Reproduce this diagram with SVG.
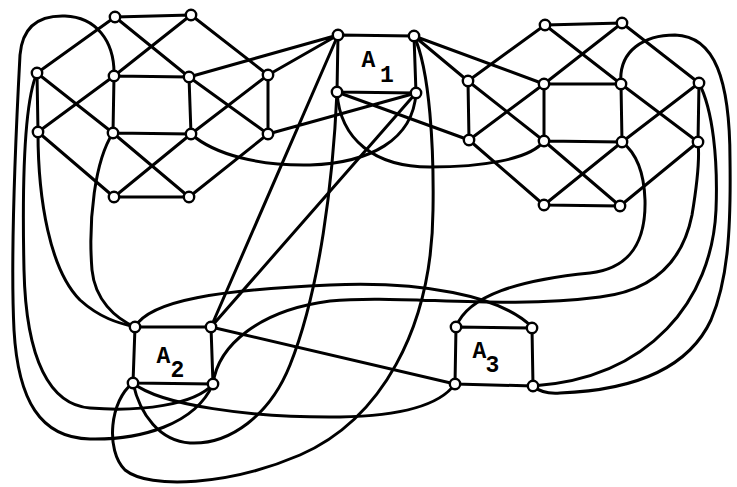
<svg xmlns="http://www.w3.org/2000/svg" width="737" height="487" viewBox="0 0 737 487">
<style>
.e{stroke:#000;stroke-width:3;fill:none;stroke-linecap:round;stroke-linejoin:round}
.n{fill:#fff;stroke:#000;stroke-width:2.4}
.t{font-family:"Liberation Mono","Courier New",monospace;font-weight:bold;font-size:23px;fill:#000;text-anchor:middle}
</style>
<rect width="737" height="487" fill="#fff"/>
<g id="connectors">
<path class="e" d="M115,17 L191,15 M115,17 L37,73 M115,17 L189,77 M191,15 L114,76 M191,15 L268,75 M37,73 L38,132 M37,73 L113,133 M114,76 L38,132 M114,76 L113,133 M114,76 L189,77 M189,77 L191,134 M189,77 L268,134 M268,75 L191,134 M268,75 L268,134 M113,133 L191,134 M38,132 L114,197 M113,133 L189,197 M191,134 L114,197 M268,134 L189,197 M114,197 L189,197"/>
<path class="e" d="M545,25 L622,23 M545,25 L468,81 M545,25 L621,84 M622,23 L544,84 M622,23 L699,83 M468,81 L469,140 M468,81 L544,141 M544,84 L469,140 M544,84 L544,141 M544,84 L621,84 M621,84 L622,142 M621,84 L698,142 M699,83 L622,142 M699,83 L698,142 M544,141 L622,142 M469,140 L544,205 M544,141 L620,206 M622,142 L544,205 M698,142 L620,206 M544,205 L620,206"/>
<path class="e" d="M338,35 L414,36 L416,93 L337,92 Z"/>
<path class="e" d="M135,327 L211,327 L213,384 L133,383 Z"/>
<path class="e" d="M456,327 L532,328 L533,386 L455,384 Z"/>
<path class="e" d="M338,35 L189,77 M338,35 L268,75 M338,35 L211,327 M414,36 L468,81 M414,36 L544,84 M416,93 L268,134 M416,93 L211,327 M337,92 L469,140 M211,327 L455,384"/>
<path class="e" d="M416,93 C413,140 370,163 310,165 C260,166 215,155 191,134"/>
<path class="e" d="M337,92 C340,140 375,167 430,167 C480,167 530,160 544,141"/>
<path class="e" d="M414,36 C430,70 434,150 433,210 C432,330 380,420 300,455 C230,485 150,490 125,470 C105,450 110,400 133,383"/>
<path class="e" d="M337,92 C333,180 320,290 290,365 C270,415 230,445 190,443 C160,441 140,415 133,383"/>
<path class="e" d="M135,327 C150,300 220,290 330,285 C420,281 500,295 532,327"/>
<path class="e" d="M213,384 C218,345 260,310 330,301 C400,294 500,310 600,297 C650,291 682,265 692,215 C697,185 700,160 698,142"/>
<path class="e" d="M456,327 C468,295 520,280 590,273 C632,268 646,240 645,200 C644,170 635,152 622,142"/>
<path class="e" d="M133,383 C160,405 250,418 340,417 C400,416 440,405 455,384"/>
<path class="e" d="M37,73 C25,100 22,180 24,270 C26,360 50,405 90,408 C140,412 195,405 213,384"/>
<path class="e" d="M114,76 C115,40 95,17 65,16 C35,15 22,30 20,55 C16,130 10,250 14,330 C18,400 40,438 90,439 C140,440 195,425 213,384"/>
<path class="e" d="M38,132 C38,200 50,270 80,300 C100,318 118,323 135,327"/>
<path class="e" d="M113,133 C95,160 88,220 92,270 C95,300 115,318 135,327"/>
<path class="e" d="M621,84 C618,50 645,35 675,35 C715,36 730,80 730,160 C731,230 728,280 711,320 C690,365 640,390 560,393 C548,394 540,392 533,386"/>
<path class="e" d="M699,83 C713,110 718,160 716,210 C712,300 650,378 533,386"/>
</g>
<g id="left-gadget">
<g id="L1"><circle class="n" cx="115" cy="17" r="5.2"/></g>
<g id="L2"><circle class="n" cx="191" cy="15" r="5.2"/></g>
<g id="L3"><circle class="n" cx="37" cy="73" r="5.2"/></g>
<g id="L4"><circle class="n" cx="114" cy="76" r="5.2"/></g>
<g id="L5"><circle class="n" cx="189" cy="77" r="5.2"/></g>
<g id="L6"><circle class="n" cx="268" cy="75" r="5.2"/></g>
<g id="L7"><circle class="n" cx="38" cy="132" r="5.2"/></g>
<g id="L8"><circle class="n" cx="113" cy="133" r="5.2"/></g>
<g id="L9"><circle class="n" cx="191" cy="134" r="5.2"/></g>
<g id="L10"><circle class="n" cx="268" cy="134" r="5.2"/></g>
<g id="L11"><circle class="n" cx="114" cy="197" r="5.2"/></g>
<g id="L12"><circle class="n" cx="189" cy="197" r="5.2"/></g>
</g>
<g id="right-gadget">
<g id="R1"><circle class="n" cx="545" cy="25" r="5.2"/></g>
<g id="R2"><circle class="n" cx="622" cy="23" r="5.2"/></g>
<g id="R3"><circle class="n" cx="468" cy="81" r="5.2"/></g>
<g id="R4"><circle class="n" cx="544" cy="84" r="5.2"/></g>
<g id="R5"><circle class="n" cx="621" cy="84" r="5.2"/></g>
<g id="R6"><circle class="n" cx="699" cy="83" r="5.2"/></g>
<g id="R7"><circle class="n" cx="469" cy="140" r="5.2"/></g>
<g id="R8"><circle class="n" cx="544" cy="141" r="5.2"/></g>
<g id="R9"><circle class="n" cx="622" cy="142" r="5.2"/></g>
<g id="R10"><circle class="n" cx="698" cy="142" r="5.2"/></g>
<g id="R11"><circle class="n" cx="544" cy="205" r="5.2"/></g>
<g id="R12"><circle class="n" cx="620" cy="206" r="5.2"/></g>
</g>
<g id="A1">
<g id="A1-tl"><circle class="n" cx="338" cy="35" r="5.2"/></g>
<g id="A1-tr"><circle class="n" cx="414" cy="36" r="5.2"/></g>
<g id="A1-bl"><circle class="n" cx="337" cy="92" r="5.2"/></g>
<g id="A1-br"><circle class="n" cx="416" cy="93" r="5.2"/></g>
<text class="t" x="368.5" y="67">A</text><text class="t" x="387" y="82">1</text>
</g>
<g id="A2">
<g id="A2-tl"><circle class="n" cx="135" cy="327" r="5.2"/></g>
<g id="A2-tr"><circle class="n" cx="211" cy="327" r="5.2"/></g>
<g id="A2-bl"><circle class="n" cx="133" cy="383" r="5.2"/></g>
<g id="A2-br"><circle class="n" cx="213" cy="384" r="5.2"/></g>
<text class="t" x="163.5" y="363">A</text><text class="t" x="177.5" y="377">2</text>
</g>
<g id="A3">
<g id="A3-tl"><circle class="n" cx="456" cy="327" r="5.2"/></g>
<g id="A3-tr"><circle class="n" cx="532" cy="328" r="5.2"/></g>
<g id="A3-bl"><circle class="n" cx="455" cy="384" r="5.2"/></g>
<g id="A3-br"><circle class="n" cx="533" cy="386" r="5.2"/></g>
<text class="t" x="479.5" y="358">A</text><text class="t" x="492.5" y="372">3</text>
</g>
</svg>
